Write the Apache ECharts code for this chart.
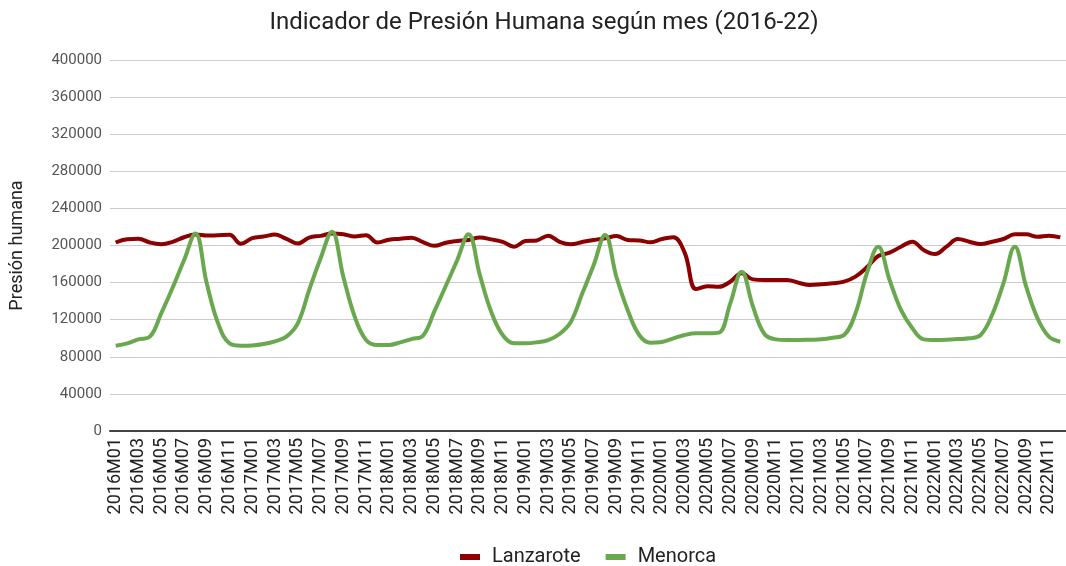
<!DOCTYPE html>
<html>
<head>
<meta charset="utf-8">
<title>Indicador de Presión Humana</title>
<script src="https://cdn.jsdelivr.net/npm/echarts@6/dist/echarts.min.js"></script>
<style>
  html, body { margin: 0; padding: 0; background: #fff; }
  #chart { width: 1066px; height: 566px; }
</style>
</head>
<body>
<div id="chart"></div>
<script>
// months 2016M01 .. 2022M12
var years = [2016, 2017, 2018, 2019, 2020, 2021, 2022];
var months = ['01', '02', '03', '04', '05', '06', '07', '08', '09', '10', '11', '12'];
var categories = [];
years.forEach(function (y) {
  months.forEach(function (m) { categories.push(y + 'M' + m); });
});

var lanzarote = [
  203200, 206800, 207200, 203200, 201400, 203900, 208900, 211800, 210700, 211100, 211500, 201800,
  207900, 209700, 211800, 207200, 202100, 208600, 210400, 212900, 212200, 209700, 211100, 203200,
  206100, 207200, 208300, 203600, 199600, 203000, 204800, 206000, 208500, 206600, 204000, 198700,
  204800, 205500, 210600, 204000, 201300, 203800, 206000, 207700, 210200, 206000, 205500, 203400,
  207000, 208800, 192000, 153000, 156000, 155500, 161000, 170000, 163500, 162800, 162800, 162800,
  159900, 157400, 158100, 159200, 161000, 166400, 176500, 188700, 192300, 198700, 204100, 195100,
  190800, 198700, 207000, 204100, 201600, 204100, 207000, 212000, 212000, 209500, 210600, 208800
];

var menorca = [
  92000, 94500, 98800, 101700, 126800, 154400, 184000, 213000, 159200, 116000, 94500, 92000,
  92300, 93800, 96700, 101700, 116000, 152000, 186000, 214800, 166400, 123300, 98100, 92700,
  92700, 95600, 99100, 102700, 129000, 156300, 184000, 212000, 168000, 128400, 103500, 94500,
  94500, 95600, 98100, 104600, 117900, 148400, 179000, 211300, 166000, 130000, 103500, 95200,
  96000, 99900, 103500, 105300, 105300, 106000, 137600, 171800, 134000, 104600, 98800, 98100,
  98100, 98400, 98800, 100600, 103500, 126800, 170000, 198700, 162800, 130500, 110700, 98800,
  98100, 98400, 99100, 99900, 103500, 125000, 159200, 198700, 155600, 121500, 101700, 96300
];

var chart = echarts.init(document.getElementById('chart'));

var option = {
  backgroundColor: '#ffffff',
  textStyle: { fontFamily: 'Roboto, sans-serif' },
  title: {
    text: 'Indicador de Presión Humana según mes (2016-22)',
    left: 539,
    textAlign: 'center',
    top: 6,
    textStyle: { color: '#222', fontSize: 24, fontWeight: 'normal', fontFamily: 'Roboto, sans-serif' }
  },
  legend: {
    top: 542,
    left: 455,
    icon: 'rect',
    itemWidth: 20,
    itemHeight: 6,
    itemGap: 25,
    textStyle: { color: '#222', fontSize: 20, padding: [0, 0, 0, 7], fontFamily: 'Roboto, sans-serif' },
    data: ['Lanzarote', 'Menorca']
  },
  grid: {
    left: 106,
    right: -9,
    top: 60,
    bottom: 135
  },
  xAxis: {
    type: 'category',
    data: categories,
    boundaryGap: true,
    axisLine: { show: true, lineStyle: { color: '#444', width: 2 } },
    axisTick: { show: false },
    axisLabel: {
      interval: 1,
      rotate: 90,
      color: '#222',
      fontSize: 18,
      margin: 7,
      fontFamily: 'Roboto, sans-serif'
    },
    splitLine: { show: false }
  },
  yAxis: {
    type: 'value',
    min: 0,
    max: 400000,
    interval: 40000,
    name: 'Presión humana',
    nameLocation: 'middle',
    nameGap: 84,
    nameTextStyle: { color: '#222', fontSize: 18, fontFamily: 'Roboto, sans-serif' },
    axisLine: { show: false },
    axisTick: { show: false },
    axisLabel: {
      color: '#555',
      fontSize: 15,
      margin: 8,
      fontFamily: 'Roboto, sans-serif',
      formatter: function (v) { return String(v); }
    },
    splitLine: { lineStyle: { color: '#cccccc', width: 1 } }
  },
  series: [
    {
      name: 'Lanzarote',
      type: 'line',
      data: lanzarote,
      smooth: 0.4,
      symbol: 'none',
      color: '#8b0000',
      lineStyle: { width: 4, color: '#8b0000' },
      z: 3
    },
    {
      name: 'Menorca',
      type: 'line',
      data: menorca,
      smooth: 0.4,
      symbol: 'none',
      color: '#6aa84f',
      lineStyle: { width: 4, color: '#6aa84f' },
      z: 4
    }
  ]
};

chart.setOption(option);
</script>
</body>
</html>
